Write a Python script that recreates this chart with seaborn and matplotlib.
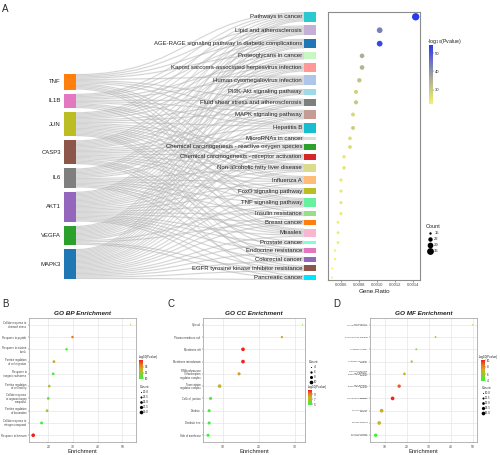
import numpy as np
import pandas as pd
import matplotlib
matplotlib.use("Agg")
import matplotlib.pyplot as plt
import seaborn as sns
from matplotlib.path import Path
from matplotlib.patches import PathPatch, Rectangle
from matplotlib.colors import LinearSegmentedColormap, Normalize
from matplotlib.cm import ScalarMappable
from matplotlib.lines import Line2D

sns.set_theme(style="white")
plt.rcParams["font.family"] = ["Liberation Sans", "DejaVu Sans"]

# ---------------- data: panel A ----------------
genes = ["TNF", "IL1B", "JUN", "CASP3", "IL6", "AKT1", "VEGFA", "MAPK3"]
gene_colors = ["#ff7f0e", "#e377c2", "#bcbd22", "#8c564b", "#7f7f7f", "#9467bd", "#2ca02c", "#1f77b4"]

pathways = ["Pathways in cancer", "Lipid and atherosclerosis",
            "AGE-RAGE signaling pathway in diabetic complications", "Proteoglycans in cancer",
            "Kaposi sarcoma-associated herpesvirus infection", "Human cytomegalovirus infection",
            "PI3K-Akt signaling pathway", "Fluid shear stress and atherosclerosis",
            "MAPK signaling pathway", "Hepatitis B", "MicroRNAs in cancer",
            "Chemical carcinogenesis - reactive oxygen species",
            "Chemical carcinogenesis - receptor activation", "Non-alcoholic fatty liver disease",
            "Influenza A", "FoxO signaling pathway", "TNF signaling pathway", "Insulin resistance",
            "Breast cancer", "Measles", "Prostate cancer", "Endocrine resistance",
            "Colorectal cancer", "EGFR tyrosine kinase inhibitor resistance", "Pancreatic cancer"]
pathway_colors = ["#2ec8d0", "#c5b0d5", "#1f77b4", "#c9f7c4", "#ff9896", "#aec7e8", "#9edae5",
                  "#7f7f7f", "#c49c94", "#17becf", "#dcdcdc", "#2ca02c", "#d62728", "#dbdb8d",
                  "#ffbb78", "#bcbd22", "#66f0a0", "#98df8a", "#ff7f0e", "#f7b6d2", "#7fffd4",
                  "#e377c2", "#9467bd", "#8c564b", "#00e5ff"]
pathway_genes = [
    ["TNF", "IL1B", "JUN", "CASP3", "IL6", "AKT1", "VEGFA", "MAPK3"],
    ["TNF", "IL1B", "JUN", "CASP3", "IL6", "AKT1", "VEGFA", "MAPK3"],
    ["TNF", "IL1B", "JUN", "CASP3", "IL6", "AKT1", "VEGFA", "MAPK3"],
    ["TNF", "JUN", "CASP3", "AKT1", "VEGFA", "MAPK3"],
    ["IL1B", "JUN", "CASP3", "IL6", "AKT1", "VEGFA", "MAPK3"],
    ["TNF", "IL1B", "JUN", "CASP3", "IL6", "AKT1", "VEGFA", "MAPK3"],
    ["CASP3", "IL6", "AKT1", "VEGFA", "MAPK3"],
    ["TNF", "IL1B", "JUN", "AKT1", "VEGFA", "MAPK3"],
    ["TNF", "IL1B", "JUN", "CASP3", "IL6", "AKT1", "VEGFA", "MAPK3"],
    ["TNF", "IL1B", "JUN", "CASP3", "IL6", "AKT1", "VEGFA", "MAPK3"],
    ["CASP3", "AKT1", "MAPK3"],
    ["JUN", "CASP3", "AKT1", "VEGFA", "MAPK3"],
    ["JUN", "CASP3", "AKT1", "VEGFA", "MAPK3"],
    ["TNF", "IL1B", "JUN", "CASP3", "IL6", "AKT1", "MAPK3"],
    ["TNF", "IL1B", "JUN", "CASP3", "IL6", "AKT1", "MAPK3"],
    ["JUN", "CASP3", "IL6", "AKT1", "MAPK3"],
    ["TNF", "IL1B", "JUN", "CASP3", "IL6", "AKT1", "VEGFA", "MAPK3"],
    ["TNF", "IL6", "AKT1", "MAPK3"],
    ["JUN", "AKT1", "VEGFA", "MAPK3"],
    ["TNF", "IL1B", "JUN", "CASP3", "IL6", "AKT1", "MAPK3"],
    ["CASP3", "AKT1", "MAPK3"],
    ["JUN", "IL6", "AKT1", "MAPK3"],
    ["JUN", "CASP3", "AKT1", "MAPK3"],
    ["JUN", "IL6", "AKT1", "VEGFA", "MAPK3"],
    ["CASP3", "AKT1", "VEGFA", "MAPK3"],
]
gene_ratio = [0.001433, 0.001033, 0.001033, 0.000837, 0.000837, 0.000807, 0.000770, 0.000770,
              0.000737, 0.000737, 0.000703, 0.000703, 0.000637, 0.000637, 0.000603, 0.000603,
              0.000603, 0.000603, 0.000570, 0.000570, 0.000570, 0.000537, 0.000537, 0.000503,
              0.000503]
kegg_count = [40, 29, 29, 23, 23, 22, 21, 21, 20, 20, 19, 19, 18, 18, 17, 17, 17, 17, 16, 16,
              16, 15, 15, 14, 14]
kegg_logp = [54.5, 43.5, 52.5, 36, 35, 32, 28.5, 31, 27.5, 30, 26, 27, 24.5, 25, 24, 24, 24.5,
             23.5, 23, 23.5, 23, 22.5, 22.5, 22.2, 22.2]
ratio_ticks = [0.0006, 0.0008, 0.0010, 0.0012, 0.0014]
ratio_ticklabels = ["0.0006", "0.0008", "0.0010", "0.0012", "0.0014"]
kegg_cbar_ticks = [30, 40, 50]
kegg_count_levels = [15, 22, 29, 36]

# ---------------- data: GO panels ----------------
bp_terms = ["Cellular response to\nchemical stress", "Response to peptide",
            "Response to nutrient\nlevels", "Positive regulation\nof cell migration",
            "Response to\ninorganic substance", "Positive regulation\nof cell motility",
            "Cellular response\nto organonitrogen\ncompound", "Positive regulation\nof locomotion",
            "Cellular response to\nnitrogen compound", "Response to hormone"]
bp_enrich = [53.3, 29.8, 27.4, 22.3, 22.0, 20.4, 20.0, 19.5, 17.3, 13.9]
bp_count = [20, 24, 24, 25, 25, 25, 25, 25, 26, 30]
bp_logp = [12.5, 14.8, 10.0, 13.6, 9.8, 12.6, 10.6, 12.0, 9.9, 16.4]
bp_xticks = [20, 30, 40, 50]
bp_cbar_ticks = [10, 12, 14]
bp_count_levels = [20.0, 22.5, 25.0, 27.5, 30.0]

cc_terms = ["Cytosol", "Plasma membrane raft", "Membrane raft", "Membrane microdomain",
            "RNA polymerase\nII transcription\nregulator complex", "Transcription\nregulator complex",
            "Cell-cell junction", "Dendrite", "Dendritic tree", "Side of membrane"]
cc_enrich = [32.1, 26.4, 15.6, 15.6, 14.5, 9.1, 6.6, 6.2, 6.2, 5.9]
cc_count = [4, 6, 10, 10, 8, 10, 8, 8, 8, 8]
cc_logp = [6.0, 8.0, 10.6, 10.6, 8.3, 7.6, 5.2, 5.0, 5.0, 4.8]
cc_xticks = [10, 20, 30]
cc_cbar_ticks = [5, 7, 9]
cc_count_levels = [4, 6, 8, 10]

mf_terms = ["Transcription\ncoregulator binding", "Phosphatase binding", "Cytokine activity",
            "Cytokine receptor\nbinding",
            "RNA polymerase\nII-specific\nDNA-binding\ntranscription factor\nbinding",
            "DNA-binding\ntranscription factor\nbinding", "Transcription factor\nbinding",
            "Protein kinase\nbinding", "Kinase binding", "Protein domain\nspecific binding"]
mf_enrich = [50.0, 33.1, 24.3, 22.2, 18.9, 16.5, 13.5, 8.5, 7.4, 5.8]
mf_count = [10, 11, 11, 12, 13, 15, 16, 16, 16, 15]
mf_logp = [6.0, 5.4, 5.4, 5.8, 7.0, 9.0, 10.0, 7.2, 7.0, 4.0]
mf_xticks = [10, 20, 30, 40, 50]
mf_cbar_ticks = [4, 6, 8, 10]
mf_count_levels = [10.0, 11.5, 13.0, 14.5, 16.0]

# ---------------- figure ----------------
W, H = 500, 455
fig = plt.figure(figsize=(W / 100, H / 100), dpi=100)


def add_ax(x0, y0, x1, y1):
    return fig.add_axes([x0 / W, 1 - y1 / H, (x1 - x0) / W, (y1 - y0) / H])


def ftext(x, y, s, **kw):
    return fig.text(x / W, 1 - y / H, s, **kw)


# ---------------- Sankey ----------------
sk = add_ax(0, 0, 330, 290)
sk.set_xlim(0, 330)
sk.set_ylim(290, 0)
sk.axis("off")

unit = 1.2
gene_n = [sum(g in s for s in pathway_genes) for g in genes]
path_n = [len(s) for s in pathway_genes]
N = sum(gene_n)
g_top, g_bot = 74, 279
p_top, p_bot = 12, 280
g_gap = (g_bot - g_top - N * unit) / (len(genes) - 1)
p_gap = (p_bot - p_top - N * unit) / (len(pathways) - 1)

g_y0 = []
y = g_top
for n in gene_n:
    g_y0.append(y)
    y += n * unit + g_gap
p_y0 = []
y = p_top
for n in path_n:
    p_y0.append(y)
    y += n * unit + p_gap
p_center = [p_y0[j] + path_n[j] * unit / 2 for j in range(len(pathways))]

gx0, gx1 = 64, 76
px0, px1 = 304, 316

g_cursor = list(g_y0)
p_cursor = list(p_y0)
for j, members in enumerate(pathway_genes):
    for gi, g in enumerate(genes):
        if g in members:
            a0 = g_cursor[gi]
            b0 = p_cursor[j]
            g_cursor[gi] += unit
            p_cursor[j] += unit
            a1, b1 = a0 + unit, b0 + unit
            xm = (gx1 + px0) / 2
            verts = [(gx1, a0), (xm, a0), (xm, b0), (px0, b0), (px0, b1), (xm, b1), (xm, a1),
                     (gx1, a1), (gx1, a0)]
            codes = [Path.MOVETO, Path.CURVE4, Path.CURVE4, Path.CURVE4, Path.LINETO,
                     Path.CURVE4, Path.CURVE4, Path.CURVE4, Path.CLOSEPOLY]
            sk.add_patch(PathPatch(Path(verts, codes), facecolor="#a9a9a9", alpha=0.5,
                                   edgecolor="#f4f4f4", linewidth=0.12, zorder=1))

for gi, g in enumerate(genes):
    sk.add_patch(Rectangle((gx0, g_y0[gi]), gx1 - gx0, gene_n[gi] * unit,
                           facecolor=gene_colors[gi], edgecolor="none", zorder=3))
    sk.text(61, g_y0[gi] + gene_n[gi] * unit / 2, g, ha="right", va="center",
            fontsize=4.3, color="#222222", zorder=4)
for j, p in enumerate(pathways):
    sk.add_patch(Rectangle((px0, p_y0[j]), px1 - px0, path_n[j] * unit,
                           facecolor=pathway_colors[j], edgecolor="none", zorder=3))
    sk.text(302, p_center[j], p, ha="right", va="center", fontsize=4.3,
            color="#222222", zorder=4)

ftext(2, 9, "A", fontsize=7, va="center", ha="left")

# ---------------- KEGG dot plot ----------------
top_cmap = LinearSegmentedColormap.from_list(
    "yb", [(0, "#f2f26a"), (0.45, "#aaaa98"), (1, "#2a3aee")])
kdf = pd.DataFrame({"y": p_center, "ratio": gene_ratio, "count": kegg_count, "logp": kegg_logp})
dp = add_ax(328, 12, 420, 280)
k_norm = (min(kegg_logp), max(kegg_logp))
k_sizes = (2, 28)
k_snorm = (14, 40)
sns.scatterplot(data=kdf, x="ratio", y="y", hue="logp", hue_norm=k_norm, palette=top_cmap,
                size="count", sizes=k_sizes, size_norm=k_snorm, legend=False,
                edgecolor="none", ax=dp)
dp.set_ylim(280, 12)
dp.set_xlim(0.000459, 0.001481)
dp.set_yticks([])
dp.set_ylabel("")
dp.set_xticks(ratio_ticks)
dp.set_xticklabels(ratio_ticklabels)
dp.tick_params(axis="x", labelsize=3.0, length=1.5, width=0.4, pad=1, colors="#444444",
               bottom=True)
dp.set_xlabel("Gene.Ratio", fontsize=4.5, labelpad=1, color="#222222")
for sp in dp.spines.values():
    sp.set_color("#8c8c8c")
    sp.set_linewidth(0.8)

cax = add_ax(429, 45, 432.5, 104)
sm = ScalarMappable(norm=Normalize(*k_norm), cmap=top_cmap)
cb = fig.colorbar(sm, cax=cax, ticks=kegg_cbar_ticks)
cb.outline.set_visible(False)
cax.tick_params(labelsize=3, length=1, width=0.3, pad=1)
ftext(427, 41, "-log$_{10}$(Pvalue)", fontsize=3.8, ha="left", va="center", color="#222222")


def size_of(c, sizes, snorm):
    return sizes[0] + (c - snorm[0]) / (snorm[1] - snorm[0]) * (sizes[1] - sizes[0])


handles = [Line2D([], [], marker="o", ls="", color="black", markeredgewidth=0,
                  markersize=np.sqrt(size_of(c, k_sizes, k_snorm))) for c in kegg_count_levels]
fig.legend(handles, [str(c) for c in kegg_count_levels], title="Count", loc="upper left",
           bbox_to_anchor=(424 / W, 1 - 222 / H), frameon=False, fontsize=3, title_fontsize=4,
           labelspacing=0.5, handletextpad=0.5, borderpad=0, handlelength=1)

# ---------------- GO panels ----------------
go_cmap = LinearSegmentedColormap.from_list(
    "gr", [(0, "#3cf03c"), (0.5, "#c9b321"), (0.75, "#e8781f"), (1, "#f51d1d")])


def go_panel(box, letter, letter_x, title, terms, enrich, cnt, logp, xticks, xlim, cbar_box,
             cbar_ticks, cnt_levels, cnt_fmt, leg_xy, sizes, ylab_size, cbar_title_x):
    ax = add_ax(*box)
    df = pd.DataFrame({"term": terms, "enrich": enrich, "count": cnt, "logp": logp})
    snorm = (min(cnt), max(cnt))
    hnorm = (min(logp), max(logp))
    sns.scatterplot(data=df, x="enrich", y="term", hue="logp", hue_norm=hnorm,
                    palette=go_cmap, size="count", sizes=sizes, size_norm=snorm,
                    legend=False, edgecolor="none", ax=ax, zorder=3)
    ax.set_ylim(len(terms) - 0.45, -0.55)
    ax.set_xlim(*xlim)
    ax.set_xticks(xticks)
    ax.set_xticklabels([str(t) for t in xticks])
    ax.grid(True, color="#e6e6e6", linewidth=0.5)
    ax.set_axisbelow(True)
    ax.tick_params(axis="y", labelsize=ylab_size, length=1, width=0.3, pad=0.8,
                   colors="#444444", left=True)
    for lab in ax.get_yticklabels():
        lab.set_linespacing(0.9)
    ax.tick_params(axis="x", labelsize=2.4, length=1, width=0.3, pad=0.8, colors="#444444",
                   bottom=True)
    ax.set_ylabel("")
    ax.set_xlabel("Enrichment", fontsize=4.2, labelpad=0.3, color="#222222")
    ax.set_title(title, fontsize=4.6, fontweight="bold", fontstyle="italic", pad=2,
                 color="#222222")
    for sp in ax.spines.values():
        sp.set_color("#999999")
        sp.set_linewidth(0.5)
    ftext(letter_x, 304, letter, fontsize=7, va="center", ha="left")
    # colorbar
    cx = add_ax(*cbar_box)
    smg = ScalarMappable(norm=Normalize(*hnorm), cmap=go_cmap)
    cbg = fig.colorbar(smg, cax=cx, ticks=cbar_ticks)
    cbg.outline.set_visible(False)
    cx.tick_params(labelsize=2.2, length=0.8, width=0.3, pad=0.8)
    ftext(cbar_title_x, cbar_box[1] - 3, "-log10(Pvalue)", fontsize=2.1, ha="left",
          va="center", color="#222222")
    hs = [Line2D([], [], marker="o", ls="", color="black", markeredgewidth=0,
                 markersize=np.sqrt(size_of(c, sizes, snorm))) for c in cnt_levels]
    fig.legend(hs, [cnt_fmt.format(c) for c in cnt_levels], title="Count", loc="upper left",
               bbox_to_anchor=(leg_xy[0] / W, 1 - leg_xy[1] / H), frameon=False,
               fontsize=2.2, title_fontsize=2.6, labelspacing=0.35, handletextpad=0.4,
               borderpad=0, handlelength=0.8)
    return ax


go_panel((29, 318, 136, 442), "B", 2, "GO BP Enrichment", bp_terms, bp_enrich, bp_count,
         bp_logp, bp_xticks, (12.2, 55.5), (139, 360, 143, 379), bp_cbar_ticks,
         bp_count_levels, "{:.1f}", (138, 383), (0.6, 7), 1.9, 139)
go_panel((203, 318, 305, 442), "C", 167, "GO CC Enrichment", cc_terms, cc_enrich, cc_count,
         cc_logp, cc_xticks, (4.5, 32.8), (308, 390, 312, 405), cc_cbar_ticks,
         cc_count_levels, "{:d}", (307, 358), (0.6, 7), 1.9, 308)
go_panel((370, 318, 477, 442), "D", 333, "GO MF Enrichment", mf_terms, mf_enrich, mf_count,
         mf_logp, mf_xticks, (3.2, 52), (481, 360, 485, 381), mf_cbar_ticks,
         mf_count_levels, "{:.1f}", (480, 384), (0.6, 7), 1.75, 479)

fig.savefig("out.png", dpi=100)
